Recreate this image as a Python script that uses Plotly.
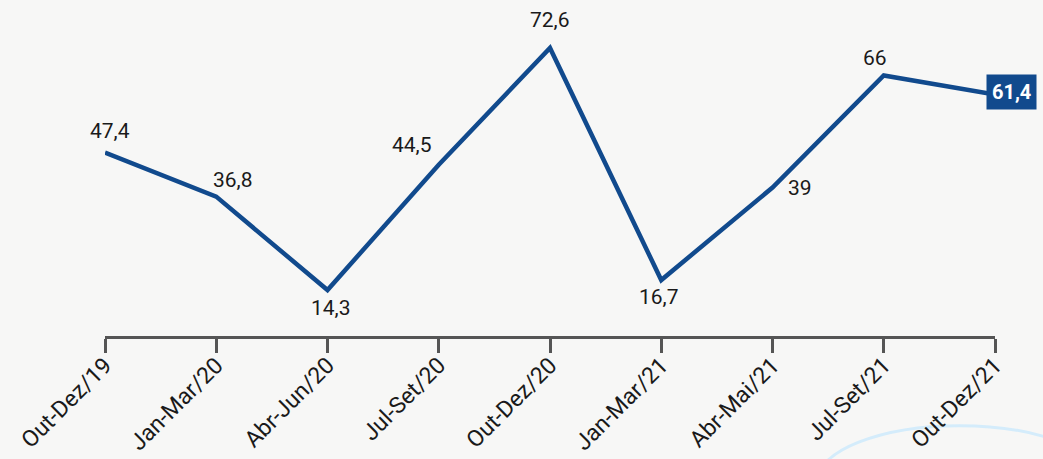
import plotly.graph_objects as go

periods = ["Out-Dez/19", "Jan-Mar/20", "Abr-Jun/20", "Jul-Set/20", "Out-Dez/20",
           "Jan-Mar/21", "Abr-Mai/21", "Jul-Set/21", "Out-Dez/21"]
values = [47.4, 36.8, 14.3, 44.5, 72.6, 16.7, 39, 66, 61.4]

# label offsets (style only): xshift, yshift
label_shift = [(5, 22), (17, 17), (3, -18), (-27, 20), (0, 28), (-2, -17), (27, 0), (-9, 17), (16, 3)]

BLUE = "#114a8d"
BG = "#f7f7f6"

fig = go.Figure()
fig.add_trace(go.Scatter(
    x=list(range(len(periods))), y=values, mode="lines",
    line=dict(color=BLUE, width=4.5), cliponaxis=False, hoverinfo="skip",
))

for i, (v, (dx, dy)) in enumerate(zip(values, label_shift)):
    txt = f"{v:g}".replace(".", ",")
    last = i == len(values) - 1
    fig.add_annotation(
        x=i, y=v, text=f"<b>{txt}</b>" if last else txt, showarrow=False,
        xshift=dx, yshift=dy, xanchor="center", yanchor="middle",
        font=dict(family="Roboto", size=21 if not last else 20,
                  color="white" if last else "#1a1a1a"),
        bgcolor=BLUE if last else None, borderpad=5 if last else 0,
    )

# faint decorative arc bottom-right
fig.add_shape(type="circle", xref="paper", yref="paper",
              x0=0.80, x1=1.12, y0=-0.62, y1=-0.275,
              line=dict(color="#d4ecfb", width=3), layer="below")

fig.update_layout(
    width=1043, height=459,
    margin=dict(l=105, r=48, t=10, b=123),
    paper_bgcolor=BG, plot_bgcolor=BG,
    showlegend=False,
    xaxis=dict(
        range=[0, 8], tickmode="array", tickvals=list(range(len(periods))),
        ticktext=periods, tickangle=-45, ticks="outside", ticklen=14,
        tickwidth=2.5, tickcolor="#555", showline=True, linecolor="#555",
        linewidth=2.5, showgrid=False, zeroline=False, automargin=False,
        ticklabelstandoff=-10,
        tickfont=dict(family="Roboto", size=23, color="#1a1a1a"),
    ),
    yaxis=dict(range=[3.23, 81.76], visible=False, showgrid=False, zeroline=False),
)

fig.write_html("out.html", config={"displayModeBar": False},
               post_script="document.body.style.margin='0';document.body.style.overflow='hidden';")
